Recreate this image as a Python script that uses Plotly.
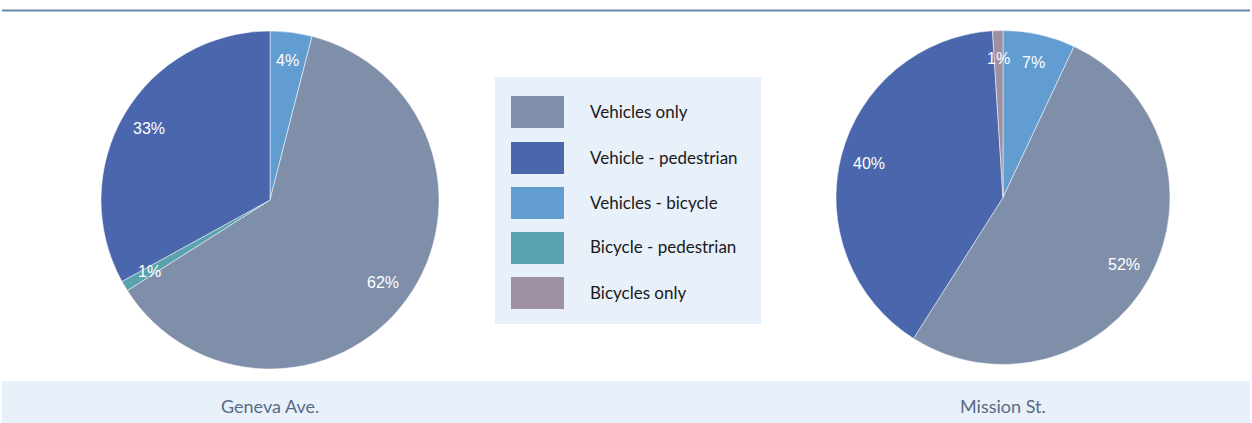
import math
import plotly.graph_objects as go

W, H = 1252, 423

categories = ["Vehicles only", "Vehicle - pedestrian", "Vehicles - bicycle",
              "Bicycle - pedestrian", "Bicycles only"]
colors = {"Vehicles only": "#7F8FA9", "Vehicle - pedestrian": "#4A66AC",
          "Vehicles - bicycle": "#629DD1", "Bicycle - pedestrian": "#5AA2AE",
          "Bicycles only": "#9D90A0"}

# slice order as drawn, clockwise from 12 o'clock
geneva_labels = ["Vehicles - bicycle", "Vehicles only", "Bicycle - pedestrian", "Vehicle - pedestrian"]
geneva_values = [4, 62, 1, 33]
mission_labels = ["Vehicles - bicycle", "Vehicles only", "Vehicle - pedestrian", "Bicycles only"]
mission_values = [7, 52, 40, 1]
street_names = ["Geneva Ave.", "Mission St."]


def px_x(x):
    return x / W


def px_y(y):
    return 1 - y / H


def pie(labels, values, cx, cy, r):
    return go.Pie(
        labels=labels, values=values, sort=False, direction="clockwise", rotation=0,
        marker=dict(colors=[colors[l] for l in labels], line=dict(color="white", width=0.5)),
        textinfo="none",
        domain=dict(x=[px_x(cx - r), px_x(cx + r)], y=[px_y(cy + r), px_y(cy - r)]),
        showlegend=False, hoverinfo="label+value",
    )


def slice_labels(values, cx, cy, r, frac=0.83):
    # percentage labels near the outer edge, on each slice's middle angle
    out = []
    total = sum(values)
    acc = 0
    for v in values:
        mid = (acc + v / 2) / total * 2 * math.pi
        acc += v
        x = cx + frac * r * math.sin(mid)
        y = cy - frac * r * math.cos(mid)
        out.append(dict(text=f"{round(v / total * 100)}%", xref="paper", yref="paper",
                        x=px_x(x), y=px_y(y), xanchor="center", yanchor="middle",
                        showarrow=False,
                        font=dict(family="Liberation Sans", size=16, color="white")))
    return out


pies = [(geneva_labels, geneva_values, 270, 200, 169),
        (mission_labels, mission_values, 1003, 197.5, 167)]

fig = go.Figure()
annotations = []
for labels, values, cx, cy, r in pies:
    fig.add_trace(pie(labels, values, cx, cy, r))
    annotations += slice_labels(values, cx, cy, r)

shapes = [
    # top rule
    dict(type="line", xref="paper", yref="paper", x0=px_x(2), x1=px_x(1250),
         y0=px_y(10.5), y1=px_y(10.5), line=dict(color="#6A87A8", width=2)),
    # bottom band
    dict(type="rect", xref="paper", yref="paper", x0=px_x(2), x1=px_x(1250),
         y0=px_y(423), y1=px_y(381), fillcolor="#E8F0FA", line=dict(width=0), layer="below"),
    # legend box
    dict(type="rect", xref="paper", yref="paper", x0=px_x(495), x1=px_x(761),
         y0=px_y(324), y1=px_y(77), fillcolor="#E8F0FA", line=dict(width=0), layer="below"),
]
row_top = [96, 142, 187, 232, 277]
for i, cat in enumerate(categories):
    t = row_top[i]
    shapes.append(dict(type="rect", xref="paper", yref="paper", x0=px_x(511), x1=px_x(564),
                       y0=px_y(t + 32), y1=px_y(t), fillcolor=colors[cat], line=dict(width=0)))
    annotations.append(dict(text=cat, xref="paper", yref="paper", x=px_x(588), y=px_y(t + 15),
                            xanchor="left", yanchor="middle", showarrow=False,
                            font=dict(family="Lato", size=17, color="#1a1a1a")))

for name, (_, _, cx, _, _) in zip(street_names, pies):
    annotations.append(dict(text=name, xref="paper", yref="paper", x=px_x(cx), y=px_y(406),
                            xanchor="center", yanchor="middle", showarrow=False,
                            font=dict(family="Lato", size=18, color="#5A6A85")))

fig.update_layout(
    width=W, height=H, margin=dict(l=0, r=0, t=0, b=0),
    paper_bgcolor="white", plot_bgcolor="white",
    shapes=shapes, annotations=annotations,
)

fig.write_html("out.html", config={"displayModeBar": False},
               post_script="document.body.style.margin='0';")
